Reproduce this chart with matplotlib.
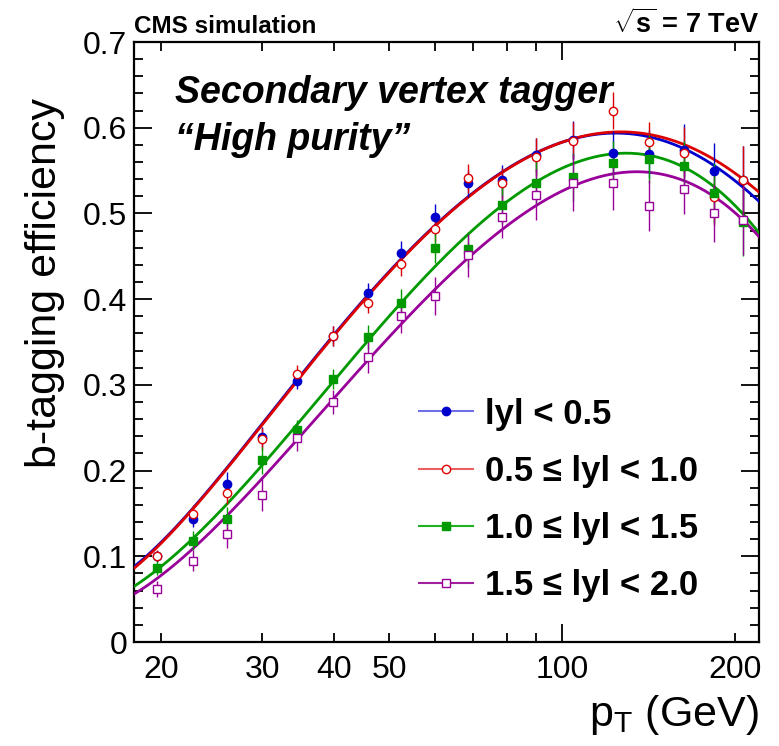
import numpy as np
import matplotlib
matplotlib.use("Agg")
import matplotlib.pyplot as plt
from matplotlib.lines import Line2D
from matplotlib.ticker import FixedLocator, FuncFormatter, MultipleLocator

plt.rcParams['font.family'] = ['Liberation Sans', 'DejaVu Sans']
plt.rcParams['mathtext.fontset'] = 'custom'
plt.rcParams['mathtext.rm'] = 'Liberation Sans'
plt.rcParams['mathtext.bf'] = 'Liberation Sans:bold'
plt.rcParams['mathtext.it'] = 'Liberation Sans:italic'

# ---------------- data points ----------------
pt = [19.7, 22.7, 26.1, 30.0, 34.5, 39.9, 45.9, 52.4, 59.9, 68.6, 78.5, 89.9,
      104.3, 122.3, 141.8, 162.6, 183.9, 206.3]

eff_y0 = [0.100, 0.144, 0.184, 0.239, 0.305, 0.357, 0.407, 0.454, 0.496, 0.535,
          0.539, 0.568, 0.586, 0.571, 0.569, 0.574, 0.549, 0.539]
err_y0 = [0.006, 0.010, 0.014, 0.012, 0.010, 0.012, 0.012, 0.014, 0.015, 0.016,
          0.018, 0.020, 0.022, 0.025, 0.028, 0.030, 0.033, 0.040]

eff_y1 = [0.100, 0.149, 0.174, 0.237, 0.313, 0.357, 0.396, 0.441, 0.482, 0.541,
          0.535, 0.566, 0.585, 0.620, 0.583, 0.571, 0.519, 0.539]
err_y1 = [0.007, 0.011, 0.013, 0.013, 0.010, 0.012, 0.012, 0.014, 0.015, 0.017,
          0.018, 0.022, 0.022, 0.022, 0.024, 0.030, 0.033, 0.040]

eff_y2 = [0.086, 0.118, 0.144, 0.212, 0.247, 0.307, 0.356, 0.396, 0.460, 0.458,
          0.510, 0.536, 0.543, 0.559, 0.564, 0.555, 0.524, 0.490]
err_y2 = [0.008, 0.011, 0.014, 0.016, 0.012, 0.012, 0.014, 0.016, 0.018, 0.020,
          0.022, 0.025, 0.028, 0.025, 0.028, 0.030, 0.035, 0.040]

eff_y3 = [0.062, 0.095, 0.126, 0.172, 0.238, 0.280, 0.332, 0.380, 0.404, 0.451,
          0.496, 0.522, 0.536, 0.536, 0.509, 0.529, 0.500, 0.492]
err_y3 = [0.009, 0.012, 0.016, 0.019, 0.015, 0.014, 0.018, 0.020, 0.022, 0.025,
          0.025, 0.030, 0.033, 0.032, 0.030, 0.030, 0.033, 0.040]

# ---------------- fitted curves ----------------
fit_pt = [17.95, 19.7, 22.7, 26.1, 30.0, 34.5, 39.9, 45.9, 52.4, 59.9, 68.6, 78.5,
          89.9, 104.3, 122.3, 141.8, 162.6, 183.9, 206.3, 220.0]
fit_y0 = [0.088, 0.111, 0.158, 0.201, 0.255, 0.306, 0.358, 0.407, 0.443, 0.487,
          0.520, 0.549, 0.570, 0.587, 0.593, 0.590, 0.576, 0.555, 0.531, 0.514]
fit_y1 = [0.086, 0.110, 0.157, 0.200, 0.254, 0.305, 0.357, 0.406, 0.442, 0.486,
          0.519, 0.549, 0.570, 0.587, 0.594, 0.592, 0.582, 0.562, 0.540, 0.525]
fit_y2 = [0.0645, 0.084, 0.123, 0.160, 0.2065, 0.251, 0.304, 0.352, 0.399, 0.440,
          0.473, 0.508, 0.535, 0.5585, 0.570, 0.570, 0.5545, 0.529, 0.498, 0.479]
fit_y3 = [0.057, 0.072, 0.109, 0.150, 0.189, 0.236, 0.284, 0.329, 0.368, 0.413,
          0.4495, 0.481, 0.508, 0.532, 0.546, 0.5476, 0.539, 0.5195, 0.492, 0.473]

labels = ['lyl < 0.5', '0.5 \u2264 lyl < 1.0', '1.0 \u2264 lyl < 1.5', '1.5 \u2264 lyl < 2.0']
colors = ['#0000cc', '#dd0000', '#009900', '#990099']
legend_line_colors = ['#7070e8', '#e86060', '#20b020', '#a020a0']
markers = ['o', 'o', 's', 's']
filled = [True, False, True, False]

series = [(eff_y0, err_y0, fit_y0), (eff_y1, err_y1, fit_y1),
          (eff_y2, err_y2, fit_y2), (eff_y3, err_y3, fit_y3)]

# ---------------- figure ----------------
fig = plt.figure(figsize=(7.79, 7.46), dpi=100)
ax = fig.add_axes([134/779, 104/746, 625/779, 600/746])
ax.set_xscale('log')
ax.set_xlim(17.95, 220)
ax.set_ylim(0, 0.7)

lx = np.log10(np.array(fit_pt))
xs = np.linspace(lx[0], lx[-1], 300)
for (eff, err, fy), c, m, f in zip(series, colors, markers, filled):
    coef = np.polyfit(lx, np.array(fy), 6)
    ax.plot(10**xs, np.polyval(coef, xs), color=c, lw=2.0, zorder=3)
    ax.errorbar(pt, eff, yerr=err, fmt='none', ecolor=c, elinewidth=1.0, capsize=0, zorder=4)
    ax.plot(pt, eff, linestyle='none', marker=m, ms=6.0,
            mfc=c if f else 'white', mec=c, mew=1.0, zorder=5)

# ticks
ax.xaxis.set_major_locator(FixedLocator([100]))
ax.xaxis.set_minor_locator(FixedLocator([20, 30, 40, 50, 60, 70, 80, 90, 200]))
ax.xaxis.set_major_formatter(FuncFormatter(lambda v, p: '%d' % v))
ax.xaxis.set_minor_formatter(FuncFormatter(lambda v, p: '%d' % v if int(round(v)) in (20, 30, 40, 50, 200) else ''))
ax.yaxis.set_major_locator(MultipleLocator(0.1))
ax.yaxis.set_minor_locator(MultipleLocator(0.02))
ax.yaxis.set_major_formatter(FuncFormatter(lambda v, p: '0' if abs(v) < 1e-9 else '%.1f' % v))

ax.tick_params(which='both', direction='in', top=True, right=True, width=1.3, color='black')
ax.tick_params(which='major', length=13)
ax.tick_params(which='minor', length=6.5)
ax.tick_params(axis='x', which='both', labelsize=23, pad=9)
ax.tick_params(axis='y', which='both', labelsize=23, pad=5)
for s in ax.spines.values():
    s.set_linewidth(1.6)

# labels
fig.text(45/779, (746-283)/746, 'b-tagging efficiency', rotation=90, ha='center', va='center', fontsize=31)
fig.text(759/779, (746-726)/746, r'p$_\mathrm{T}$ (GeV)', ha='right', va='baseline', fontsize=31)

fig.text(134/779, (746-33)/746, 'CMS simulation', ha='left', va='baseline', fontsize=17.5, fontweight='bold')
fig.text(759/779, (746-33)/746, r'$\mathbf{\sqrt{s}}$ = 7 TeV', ha='right', va='baseline', fontsize=19.5, fontweight='bold')

fig.text(175/779, (746-103)/746, 'Secondary vertex tagger', ha='left', va='baseline',
         fontsize=27, fontweight='bold', fontstyle='italic')
fig.text(175/779, (746-150)/746, '\u201cHigh purity\u201d', ha='left', va='baseline',
         fontsize=27, fontweight='bold', fontstyle='italic')

# legend
handles = []
for c, lc, m, f in zip(colors, legend_line_colors, markers, filled):
    handles.append(Line2D([0], [0], color=lc, lw=1.5, marker=m, ms=6.0,
                          mfc=c if f else 'white', mec=c, mew=1.0))
leg = fig.legend(handles, labels, loc='center left', bbox_to_anchor=(419/779, (746-500)/746),
                 bbox_transform=fig.transFigure, frameon=False, borderpad=0, borderaxespad=0,
                 handlelength=1.55, handletextpad=0.35, labelspacing=0.70,
                 prop={'family': 'Liberation Sans', 'weight': 'bold', 'size': 25})

fig.savefig('out.png', dpi=100)
